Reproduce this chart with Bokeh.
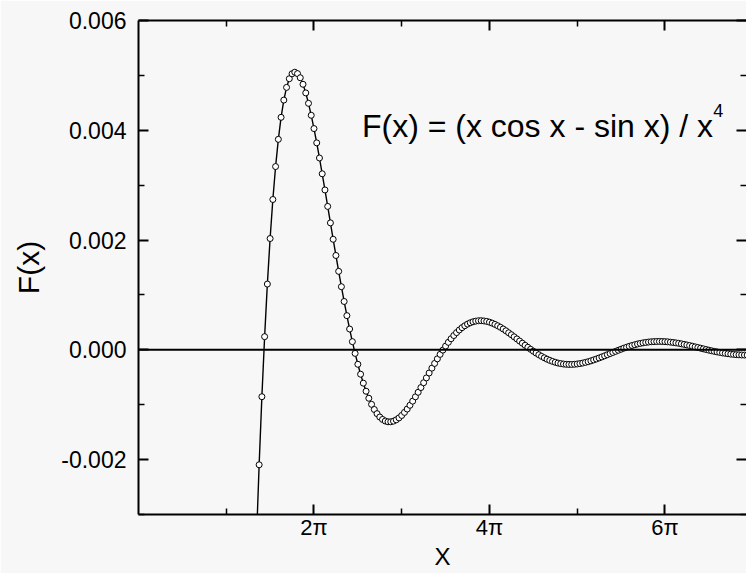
from math import pi
from bokeh.plotting import figure
from bokeh.models import (FixedTicker, LinearAxis, Span, Label, Range1d,
                          CustomJSTickFormatter, PrintfTickFormatter)
from bokeh.embed import file_html
from bokeh.resources import INLINE

# ---------------- data ----------------
x_vals = [4.2215, 4.3197, 4.4179, 4.5160, 4.6142, 4.7124, 4.8106, 4.9087, 5.0069, 5.1051,
          5.2033, 5.3014, 5.3996, 5.4978, 5.5960, 5.6941, 5.7923, 5.8905, 5.9887, 6.0868,
          6.1850, 6.2832, 6.3814, 6.4795, 6.5777, 6.6759, 6.7741, 6.8722, 6.9704, 7.0686,
          7.1668, 7.2649, 7.3631, 7.4613, 7.5595, 7.6576, 7.7558, 7.8540, 7.9522, 8.0503,
          8.1485, 8.2467, 8.3449, 8.4430, 8.5412, 8.6394, 8.7376, 8.8357, 8.9339, 9.0321,
          9.1303, 9.2284, 9.3266, 9.4248, 9.5230, 9.6211, 9.7193, 9.8175, 9.9157, 10.0138,
          10.1120, 10.2102, 10.3084, 10.4065, 10.5047, 10.6029, 10.7011, 10.7992, 10.8974, 10.9956,
          11.0938, 11.1919, 11.2901, 11.3883, 11.4865, 11.5846, 11.6828, 11.7810, 11.8792, 11.9773,
          12.0755, 12.1737, 12.2718, 12.3700, 12.4682, 12.5664, 12.6646, 12.7627, 12.8609, 12.9591,
          13.0573, 13.1554, 13.2536, 13.3518, 13.4500, 13.5481, 13.6463, 13.7445, 13.8427, 13.9408,
          14.0390, 14.1372, 14.2353, 14.3335, 14.4317, 14.5299, 14.6280, 14.7262, 14.8244, 14.9226,
          15.0207, 15.1189, 15.2171, 15.3153, 15.4134, 15.5116, 15.6098, 15.7080, 15.8061, 15.9043,
          16.0025, 16.1007, 16.1988, 16.2970, 16.3952, 16.4934, 16.5915, 16.6897, 16.7879, 16.8861,
          16.9842, 17.0824, 17.1806, 17.2788, 17.3769, 17.4751, 17.5733, 17.6715, 17.7696, 17.8678,
          17.9660, 18.0642, 18.1623, 18.2605, 18.3587, 18.4569, 18.5550, 18.6532, 18.7514, 18.8496,
          18.9477, 19.0459, 19.1441, 19.2423, 19.3404, 19.4386, 19.5368, 19.6350, 19.7331, 19.8313,
          19.9295, 20.0277, 20.1258, 20.2240, 20.3222, 20.4204, 20.5185, 20.6167, 20.7149, 20.8131,
          20.9112, 21.0094, 21.1076, 21.2058, 21.3039, 21.4021, 21.5003, 21.5985, 21.6966, 21.7948]

f_vals = [-0.003489, -0.002094, -0.000854, 0.000240, 0.001198, 0.002028, 0.002739, 0.003339, 0.003835, 0.004236,
          0.004550, 0.004781, 0.004939, 0.005029, 0.005058, 0.005032, 0.004957, 0.004838, 0.004681, 0.004491,
          0.004273, 0.004031, 0.003771, 0.003495, 0.003207, 0.002913, 0.002613, 0.002313, 0.002014, 0.001719,
          0.001430, 0.001150, 0.000881, 0.000623, 0.000379, 0.000149, -0.000065, -0.000263, -0.000444, -0.000607,
          -0.000754, -0.000882, -0.000993, -0.001087, -0.001163, -0.001224, -0.001268, -0.001297, -0.001311, -0.001311,
          -0.001299, -0.001275, -0.001240, -0.001195, -0.001140, -0.001079, -0.001010, -0.000935, -0.000856, -0.000773,
          -0.000687, -0.000599, -0.000511, -0.000422, -0.000334, -0.000248, -0.000164, -0.000083, -0.000005, 0.000068,
          0.000137, 0.000202, 0.000261, 0.000314, 0.000362, 0.000404, 0.000439, 0.000469, 0.000493, 0.000511,
          0.000523, 0.000530, 0.000531, 0.000526, 0.000518, 0.000504, 0.000486, 0.000464, 0.000439, 0.000411,
          0.000380, 0.000347, 0.000311, 0.000275, 0.000237, 0.000199, 0.000160, 0.000121, 0.000083, 0.000046,
          0.000010, -0.000025, -0.000058, -0.000089, -0.000119, -0.000145, -0.000170, -0.000192, -0.000211, -0.000227,
          -0.000241, -0.000251, -0.000259, -0.000264, -0.000266, -0.000266, -0.000263, -0.000258, -0.000250, -0.000241,
          -0.000229, -0.000216, -0.000201, -0.000184, -0.000167, -0.000148, -0.000129, -0.000109, -0.000089, -0.000068,
          -0.000048, -0.000028, -0.000008, 0.000011, 0.000030, 0.000047, 0.000064, 0.000079, 0.000093, 0.000106,
          0.000117, 0.000127, 0.000135, 0.000142, 0.000147, 0.000150, 0.000152, 0.000153, 0.000152, 0.000149,
          0.000146, 0.000140, 0.000134, 0.000127, 0.000119, 0.000109, 0.000099, 0.000089, 0.000078, 0.000066,
          0.000054, 0.000042, 0.000030, 0.000018, 0.000006, -0.000006, -0.000017, -0.000028, -0.000038, -0.000047,
          -0.000056, -0.000064, -0.000071, -0.000078, -0.000083, -0.000088, -0.000091, -0.000094, -0.000095, -0.000096]

y_major_ticks = [-0.002, 0.0, 0.002, 0.004, 0.006]
y_minor_ticks = [-0.003, -0.001, 0.001, 0.003, 0.005]
x_major_ticks = [2 * pi, 4 * pi, 6 * pi]
x_minor_ticks = [pi, 3 * pi, 5 * pi, 7 * pi]

title_text = "F(x) = (x cos x - sin x) / x"
title_sup = "4"
x_label = "X"
y_label = "F(x)"

BG = "#f7f7f7"
FONT = "Liberation Sans"

p = figure(width=746, height=573, output_backend="svg", toolbar_location=None,
           x_range=Range1d(0, 21.77), y_range=Range1d(-0.003, 0.006),
           min_border_left=138, min_border_top=20, min_border_bottom=59, min_border_right=0,
           background_fill_color=BG, border_fill_color=BG, outline_line_color=None)
p.grid.visible = False

xt = FixedTicker(ticks=x_major_ticks, minor_ticks=x_minor_ticks)
yt = FixedTicker(ticks=y_major_ticks, minor_ticks=y_minor_ticks)


def style_axis(ax):
    ax.axis_line_color = "black"
    ax.axis_line_width = 2
    ax.major_tick_in = 10
    ax.major_tick_out = 0
    ax.major_tick_line_width = 2
    ax.major_tick_line_color = "black"
    ax.minor_tick_in = 6
    ax.minor_tick_out = 0
    ax.minor_tick_line_width = 1.5
    ax.minor_tick_line_color = "black"


xa = p.xaxis[0]
xa.ticker = xt
xa.formatter = CustomJSTickFormatter(code="return Math.round(tick / Math.PI) + 'π';")
style_axis(xa)
xa.major_label_text_font = FONT
xa.major_label_text_font_size = "22px"
xa.major_label_text_color = "black"
xa.major_label_standoff = 0
xa.axis_label = x_label
xa.axis_label_text_font = FONT
xa.axis_label_text_font_size = "24px"
xa.axis_label_text_font_style = "normal"
xa.axis_label_text_color = "black"
xa.axis_label_standoff = 0

ya = p.yaxis[0]
ya.ticker = yt
ya.formatter = PrintfTickFormatter(format="%.3f")
style_axis(ya)
ya.major_label_text_font = FONT
ya.major_label_text_font_size = "23px"
ya.major_label_text_color = "black"
ya.major_label_standoff = 12
ya.axis_label = y_label
ya.axis_label_text_font = FONT
ya.axis_label_text_font_size = "30px"
ya.axis_label_text_font_style = "normal"
ya.axis_label_text_color = "black"
ya.axis_label_standoff = 13

top = LinearAxis(ticker=xt, formatter=CustomJSTickFormatter(code="return '';"),
                 major_label_standoff=0)
style_axis(top)
p.add_layout(top, "above")

right = LinearAxis(ticker=yt, formatter=CustomJSTickFormatter(code="return '';"),
                   major_label_standoff=0)
style_axis(right)
right.axis_line_color = None
p.add_layout(right, "right")

p.add_layout(Span(location=0, dimension="width", line_color="black", line_width=2))

p.line(x_vals, f_vals, line_color="black", line_width=1.4)
p.scatter(x_vals, f_vals, marker="circle", size=6, fill_color="white",
          line_color="black", line_width=1)

p.add_layout(Label(x=8.00, y=0.00407, text=title_text, text_font=FONT,
                   text_font_size="32px", text_color="black", text_baseline="alphabetic"))
p.add_layout(Label(x=20.58, y=0.00436, text=title_sup, text_font=FONT,
                   text_font_size="18px", text_color="black", text_baseline="alphabetic"))

open("out.html", "w").write(file_html(p, INLINE))
